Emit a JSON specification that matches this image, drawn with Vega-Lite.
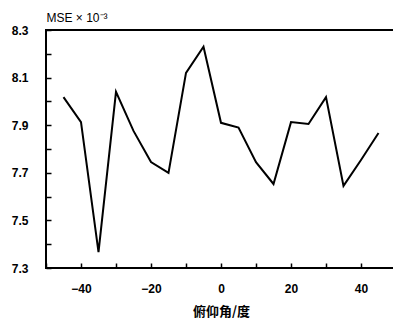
{
  "$schema": "https://vega.github.io/schema/vega-lite/v6.json",
  "width": 350,
  "height": 238,
  "autosize": "none",
  "padding": {"left": 46, "top": 30, "right": 0, "bottom": 57},
  "background": "white",
  "config": {
    "view": {"stroke": "black", "strokeWidth": 2},
    "font": "Liberation Sans"
  },
  "data": {
    "values": [
      {"angle": -45, "mse": 8.018},
      {"angle": -40, "mse": 7.913},
      {"angle": -35, "mse": 7.367},
      {"angle": -30, "mse": 8.04},
      {"angle": -25, "mse": 7.876},
      {"angle": -20, "mse": 7.745},
      {"angle": -15, "mse": 7.70},
      {"angle": -10, "mse": 8.12},
      {"angle": -5, "mse": 8.23},
      {"angle": 0, "mse": 7.91},
      {"angle": 5, "mse": 7.89},
      {"angle": 10, "mse": 7.745},
      {"angle": 15, "mse": 7.653},
      {"angle": 20, "mse": 7.913},
      {"angle": 25, "mse": 7.905},
      {"angle": 30, "mse": 8.018},
      {"angle": 35, "mse": 7.645},
      {"angle": 40, "mse": 7.754},
      {"angle": 45, "mse": 7.867}
    ]
  },
  "mark": {"type": "line", "color": "black", "strokeWidth": 2},
  "encoding": {
    "x": {
      "field": "angle",
      "type": "quantitative",
      "scale": {"domain": [-50, 50], "nice": false},
      "axis": {
        "title": "俯仰角/度",
        "titleFont": "Noto Sans CJK SC",
        "titleFontSize": 13,
        "titleFontWeight": "bold",
        "titleColor": "black",
        "titlePadding": 11,
        "values": [-50, -40, -30, -20, -10, 0, 10, 20, 30, 40, 50],
        "labelExpr": "datum.value % 20 == 0 && abs(datum.value) < 50 ? datum.label : ''",
        "labelFontSize": 12,
        "labelFontWeight": "bold",
        "labelColor": "black",
        "labelPadding": 15,
        "offset": -5,
        "domain": false,
        "ticks": true,
        "tickSize": 5,
        "tickColor": "#000000",
        "tickOpacity": 1,
        "tickWidth": 1.5,
        "grid": false
      }
    },
    "y": {
      "field": "mse",
      "type": "quantitative",
      "scale": {"domain": [7.3, 8.3], "nice": false, "zero": false},
      "axis": {
        "title": "MSE × 10⁻³",
        "titleAngle": 0,
        "titleAlign": "left",
        "titleBaseline": "alphabetic",
        "titleX": -5,
        "titleY": -9,
        "titleFontSize": 12,
        "titleFontWeight": "normal",
        "titleColor": "black",
        "values": [7.3, 7.4, 7.5, 7.6, 7.7, 7.8, 7.9, 8.0, 8.1, 8.2, 8.3],
        "format": ".1f",
        "labelExpr": "round(datum.value * 10) % 2 == 1 ? datum.label : ''",
        "labelFontSize": 12,
        "labelFontWeight": "bold",
        "labelColor": "black",
        "labelPadding": 18,
        "offset": -5,
        "domain": false,
        "ticks": true,
        "tickSize": 5,
        "tickColor": "#000000",
        "tickOpacity": 1,
        "tickWidth": 1.5,
        "grid": false
      }
    }
  }
}
